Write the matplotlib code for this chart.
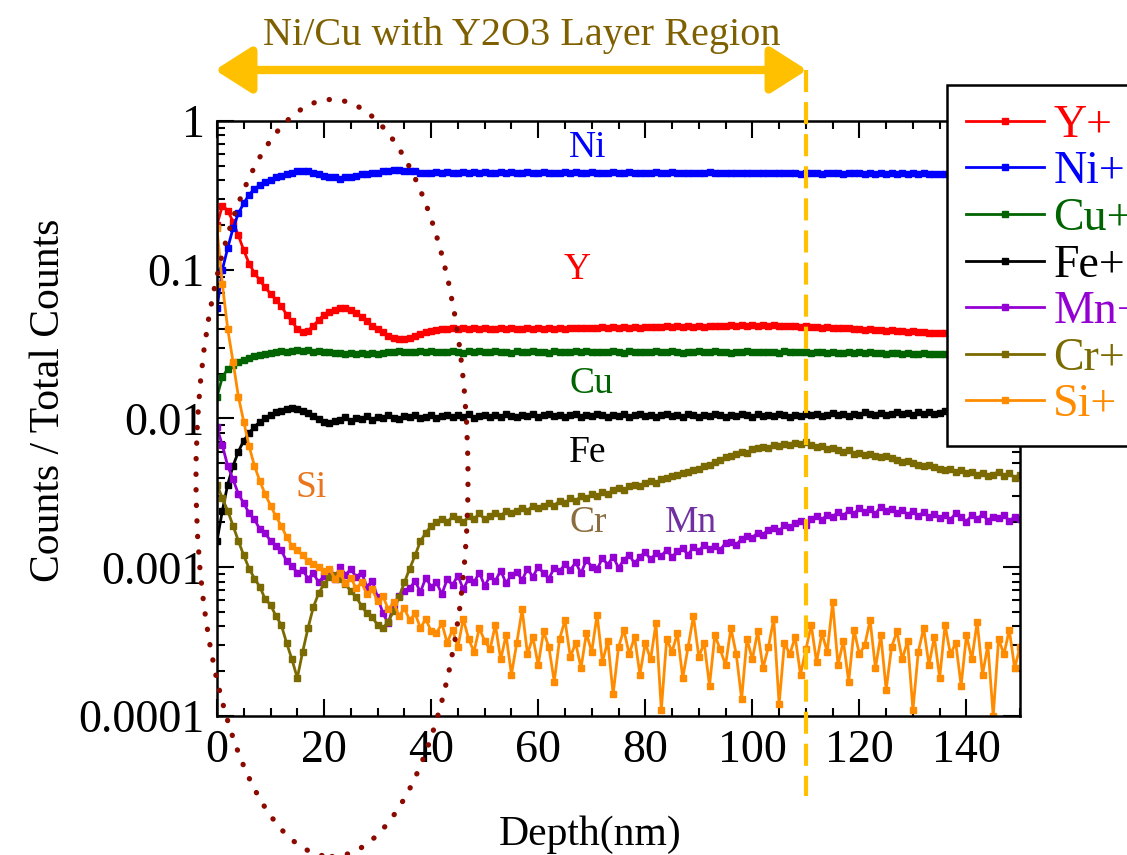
import numpy as np
import matplotlib
matplotlib.use("Agg")
import matplotlib.pyplot as plt
from matplotlib.patches import Ellipse
from matplotlib.lines import Line2D
from matplotlib.ticker import MultipleLocator, LogLocator, NullFormatter

plt.rcParams['font.family'] = ['Liberation Serif', 'DejaVu Serif']

# ---- data (1 nm steps) ----
depth = np.arange(0, 151)

ni = [0.055, 0.10, 0.14, 0.19, 0.24, 0.28, 0.32, 0.35, 0.37, 0.39, 0.40,
      0.42, 0.43, 0.44, 0.45, 0.46, 0.46, 0.46, 0.45, 0.44, 0.43,
      0.42, 0.42, 0.41, 0.42, 0.42, 0.43, 0.44, 0.44, 0.45, 0.45,
      0.46, 0.46, 0.47, 0.47, 0.46, 0.46, 0.46, 0.45, 0.45, 0.45,
      0.452, 0.448, 0.455, 0.450, 0.446, 0.453, 0.449, 0.451, 0.447, 0.454,
      0.450, 0.446, 0.452, 0.448, 0.451, 0.445, 0.450, 0.453, 0.447, 0.449,
      0.452, 0.446, 0.450, 0.448, 0.453, 0.447, 0.451, 0.445, 0.449, 0.452,
      0.446, 0.450, 0.448, 0.452, 0.445, 0.449, 0.451, 0.447, 0.450, 0.446,
      0.449, 0.452, 0.446, 0.448, 0.451, 0.445, 0.449, 0.447, 0.450, 0.446,
      0.448, 0.451, 0.445, 0.449, 0.447, 0.450, 0.444, 0.448, 0.446, 0.449,
      0.445, 0.448, 0.446, 0.450, 0.444, 0.447, 0.445, 0.449, 0.443, 0.447,
      0.445, 0.448, 0.443, 0.446, 0.444, 0.447, 0.442, 0.446, 0.444, 0.447,
      0.443, 0.445, 0.442, 0.446, 0.443, 0.445, 0.441, 0.444, 0.442, 0.445,
      0.441, 0.444, 0.442, 0.440, 0.443, 0.441, 0.444, 0.440, 0.442, 0.439,
      0.443, 0.440, 0.442, 0.439, 0.441, 0.438, 0.442, 0.440, 0.437, 0.441]

y_ion = [0.20, 0.27, 0.25, 0.21, 0.17, 0.135, 0.11, 0.095, 0.085, 0.076, 0.069,
         0.063, 0.057, 0.050, 0.045, 0.040, 0.038, 0.039, 0.042, 0.046, 0.050,
         0.052, 0.054, 0.055, 0.055, 0.054, 0.051, 0.048, 0.045, 0.042, 0.040,
         0.038, 0.036, 0.035, 0.034, 0.034, 0.035, 0.036, 0.037, 0.038, 0.039,
         0.0396, 0.0402, 0.0398, 0.0405, 0.0399, 0.0403, 0.0397, 0.0404, 0.0400, 0.0406,
         0.0401, 0.0398, 0.0404, 0.0399, 0.0403, 0.0397, 0.0402, 0.0405, 0.0400, 0.0403,
         0.0399, 0.0404, 0.0401, 0.0406, 0.0402, 0.0408, 0.0403, 0.0407, 0.0404, 0.0409,
         0.0405, 0.0410, 0.0406, 0.0411, 0.0407, 0.0412, 0.0408, 0.0413, 0.0409, 0.0414,
         0.0410, 0.0415, 0.0411, 0.0416, 0.0412, 0.0417, 0.0413, 0.0418, 0.0414, 0.0419,
         0.0415, 0.0420, 0.0416, 0.0421, 0.0417, 0.0422, 0.0418, 0.0423, 0.0419, 0.0424,
         0.0419, 0.0423, 0.0418, 0.0422, 0.0417, 0.0421, 0.0416, 0.0420, 0.0414, 0.0418,
         0.0412, 0.0415, 0.0409, 0.0412, 0.0406, 0.0409, 0.0403, 0.0406, 0.0400, 0.0402,
         0.0396, 0.0399, 0.0393, 0.0395, 0.0389, 0.0392, 0.0386, 0.0388, 0.0383, 0.0385,
         0.0379, 0.0382, 0.0376, 0.0378, 0.0373, 0.0375, 0.0370, 0.0372, 0.0367, 0.0369,
         0.0364, 0.0366, 0.0361, 0.0363, 0.0358, 0.0360, 0.0356, 0.0358, 0.0353, 0.0355]

cu = [0.0140, 0.0190, 0.0215, 0.0230, 0.0240, 0.0248, 0.0255, 0.0262, 0.0268, 0.0272, 0.0276,
      0.0279, 0.0283, 0.0281, 0.0286, 0.0290, 0.0284, 0.0288, 0.0282, 0.0286, 0.0280,
      0.0278, 0.0274, 0.0277, 0.0272, 0.0275, 0.0270, 0.0274, 0.0271, 0.0276, 0.0273,
      0.0277, 0.0281, 0.0278, 0.0283, 0.0279, 0.0282, 0.0278, 0.0284, 0.0280, 0.0283,
      0.0279, 0.0282, 0.0278, 0.0285, 0.0281, 0.0277, 0.0283, 0.0279, 0.0284, 0.0280,
      0.0278, 0.0283, 0.0279, 0.0282, 0.0277, 0.0284, 0.0280, 0.0278, 0.0283, 0.0279,
      0.0281, 0.0277, 0.0284, 0.0280, 0.0282, 0.0278, 0.0285, 0.0279, 0.0283, 0.0280,
      0.0278, 0.0282, 0.0279, 0.0284, 0.0280, 0.0277, 0.0283, 0.0281, 0.0278, 0.0282,
      0.0279, 0.0284, 0.0280, 0.0278, 0.0283, 0.0281, 0.0277, 0.0282, 0.0279, 0.0283,
      0.0280, 0.0278, 0.0284, 0.0279, 0.0282, 0.0277, 0.0281, 0.0279, 0.0283, 0.0280,
      0.0278, 0.0282, 0.0279, 0.0281, 0.0277, 0.0283, 0.0280, 0.0278, 0.0282, 0.0279,
      0.0277, 0.0281, 0.0278, 0.0276, 0.0280, 0.0277, 0.0275, 0.0279, 0.0276, 0.0278,
      0.0275, 0.0278, 0.0274, 0.0277, 0.0273, 0.0276, 0.0274, 0.0272, 0.0275, 0.0273,
      0.0271, 0.0274, 0.0272, 0.0270, 0.0273, 0.0271, 0.0269, 0.0272, 0.0270, 0.0268,
      0.0271, 0.0269, 0.0267, 0.0270, 0.0268, 0.0266, 0.0269, 0.0267, 0.0265, 0.0268]

fe = [0.0015, 0.0024, 0.0036, 0.0048, 0.0060, 0.0071, 0.0080, 0.0088, 0.0095, 0.0100,
      0.0105, 0.0110, 0.0113, 0.0116, 0.0118, 0.0116, 0.0113, 0.0109, 0.0104, 0.0099,
      0.0095, 0.0093, 0.0096,
      0.0098, 0.0102, 0.0096, 0.0101, 0.0099, 0.0104, 0.0098, 0.0103, 0.0100, 0.0105,
      0.0101, 0.0099, 0.0104, 0.0102, 0.0106, 0.0100, 0.0103, 0.0105, 0.0101, 0.0104,
      0.0106, 0.0102, 0.0105, 0.0103, 0.0107, 0.0101, 0.0104, 0.0106, 0.0102, 0.0105,
      0.0103, 0.0107, 0.0104, 0.0102, 0.0106, 0.0104, 0.0108, 0.0103, 0.0105, 0.0107,
      0.0104, 0.0106, 0.0102, 0.0105, 0.0108, 0.0103, 0.0106, 0.0104, 0.0107, 0.0105,
      0.0103, 0.0106, 0.0104, 0.0108, 0.0102, 0.0105, 0.0107, 0.0104, 0.0106, 0.0103,
      0.0105, 0.0108, 0.0104, 0.0106, 0.0103, 0.0107, 0.0105, 0.0102, 0.0106, 0.0104,
      0.0107, 0.0105, 0.0103, 0.0106, 0.0104, 0.0108, 0.0105, 0.0103, 0.0107, 0.0104,
      0.0106, 0.0104, 0.0107, 0.0105, 0.0103, 0.0106, 0.0104, 0.0108, 0.0105, 0.0107,
      0.0104, 0.0106, 0.0109, 0.0105, 0.0107, 0.0104, 0.0108, 0.0106, 0.0110, 0.0107,
      0.0105, 0.0109, 0.0106, 0.0108, 0.0111, 0.0107, 0.0109, 0.0106, 0.0110, 0.0108,
      0.0111, 0.0107, 0.0109, 0.0112, 0.0108, 0.0110, 0.0107, 0.0111, 0.0109, 0.0112,
      0.0108, 0.0110, 0.0113, 0.0109, 0.0111, 0.0108, 0.0112, 0.0110]

mn = [0.0087, 0.0066, 0.0048, 0.0039, 0.0031, 0.0027, 0.0023, 0.0021, 0.0018, 0.0017,
      0.0015, 0.0014, 0.0013, 0.0011, 0.00102, 0.00092, 0.00096, 0.00084, 0.00091, 0.00079,
      0.00088, 0.00095, 0.00083, 0.00101, 0.00089, 0.00097, 0.00086, 0.00092, 0.00074, 0.00081,
      0.00063, 0.00049, 0.00042, 0.00056, 0.00064, 0.00069,
      0.00072, 0.00081, 0.00068, 0.00085, 0.00074, 0.00079, 0.00066, 0.00083, 0.00076, 0.00088,
      0.00071, 0.00084, 0.00079, 0.00092, 0.00075, 0.00087, 0.00081, 0.00095, 0.00078, 0.00089,
      0.00093, 0.00082, 0.00098, 0.00086, 0.00101, 0.00091, 0.00084, 0.00099, 0.00094, 0.00105,
      0.00096, 0.00108, 0.00091, 0.00112, 0.00101, 0.00097, 0.00115, 0.00104, 0.00118, 0.00099,
      0.00112, 0.00121, 0.00106, 0.00118, 0.00126, 0.00113, 0.00124, 0.00119, 0.00131, 0.00117,
      0.00128, 0.00134, 0.00121, 0.00137, 0.00129, 0.00142, 0.00133, 0.00139, 0.00131, 0.00146,
      0.00148, 0.00141, 0.00156, 0.00162, 0.00158, 0.00171, 0.00166, 0.00179, 0.00184, 0.00176,
      0.00191, 0.00186, 0.00198, 0.00205, 0.00193, 0.00212, 0.00221, 0.00208, 0.00226, 0.00219,
      0.00234, 0.00222, 0.00241, 0.00228, 0.00252, 0.00236, 0.00245, 0.00229, 0.00256, 0.00238,
      0.00247, 0.00231, 0.00243, 0.00226, 0.00239, 0.00221, 0.00235, 0.00218, 0.00229, 0.00214,
      0.00226, 0.00209, 0.00231, 0.00217, 0.00203, 0.00224, 0.00211, 0.00228, 0.00206, 0.00219,
      0.00213, 0.00225, 0.00204, 0.00218, 0.00211]

cr = [0.0036, 0.0029, 0.0024, 0.0019, 0.0015, 0.0012, 0.00098, 0.00084, 0.00074, 0.00061,
      0.00056, 0.00047, 0.00041, 0.00031, 0.00024, 0.00018, 0.00027, 0.00039, 0.00054, 0.00067,
      0.00077, 0.00086, 0.00089, 0.00084, 0.00077, 0.00069, 0.00063, 0.00055, 0.00049, 0.00046,
      0.00041, 0.00039, 0.00043, 0.00051, 0.00063, 0.00079, 0.00098, 0.0012, 0.0015, 0.0017,
      0.0019,
      0.0020, 0.0021, 0.0020, 0.0022, 0.0021, 0.0020, 0.0022, 0.0021, 0.0023, 0.0021,
      0.0022, 0.0023, 0.0022, 0.0024, 0.0023, 0.0024, 0.0025, 0.0024, 0.0026, 0.0025,
      0.0026, 0.0027, 0.0026, 0.0028, 0.0027, 0.0029, 0.0028, 0.0030, 0.0029, 0.0031,
      0.0030, 0.0032, 0.0031, 0.0033, 0.0034, 0.0033, 0.0035, 0.0036, 0.0035, 0.0037,
      0.0038, 0.0037, 0.0039, 0.0040, 0.0041, 0.0042, 0.0043, 0.0044, 0.0045, 0.0046,
      0.0048, 0.0049, 0.0051, 0.0053, 0.0055, 0.0056, 0.0058, 0.0060, 0.0059, 0.0062,
      0.0063, 0.0064, 0.0063, 0.0066, 0.0065, 0.0067, 0.0066, 0.0068, 0.0067, 0.0069,
      0.0066, 0.0064, 0.0065, 0.0062, 0.0063, 0.0061, 0.0060, 0.0061, 0.0058, 0.0059,
      0.0057, 0.0058, 0.0056, 0.0055, 0.0056, 0.0054, 0.0053, 0.0051, 0.0052, 0.0050,
      0.0049, 0.0048, 0.0049, 0.0047, 0.0046, 0.0045, 0.0046, 0.0044, 0.0045, 0.0043,
      0.0044, 0.0042, 0.0043, 0.0041, 0.0042, 0.0044, 0.0041, 0.0043, 0.0040, 0.0042]

si = [0.19, 0.08, 0.04, 0.024, 0.014, 0.0095, 0.0065, 0.0048, 0.0038, 0.0031,
      0.0026, 0.0022, 0.0019, 0.0016, 0.0014, 0.0013, 0.0012, 0.0011, 0.00105, 0.0010,
      0.00095, 0.00098, 0.00084, 0.00091, 0.00078, 0.00085, 0.00072, 0.00079, 0.00066, 0.00071,
      0.00059, 0.00064, 0.00052, 0.00058, 0.00047, 0.00053, 0.00044, 0.00049, 0.00039, 0.00045,
      0.00037,
      0.00036, 0.00042, 0.00031, 0.00038, 0.00029, 0.00045, 0.00033, 0.00027, 0.00039, 0.00032,
      0.00028, 0.00041, 0.00024, 0.00035, 0.00019, 0.00031, 0.00052, 0.00026, 0.00034, 0.00022,
      0.00037, 0.00029, 0.00017, 0.00033, 0.00044, 0.00025, 0.00031, 0.00021, 0.00036, 0.00027,
      0.00048, 0.00023, 0.00032, 0.00014, 0.00029, 0.00038, 0.00026, 0.00034, 0.00019, 0.00031,
      0.00024, 0.00042, 0.00011, 0.00033, 0.00027, 0.00036, 0.00018, 0.00029, 0.00047, 0.00025,
      0.00031, 0.00016, 0.00035, 0.00028, 0.00022, 0.00039, 0.00026, 0.00013, 0.00033, 0.00024,
      0.00037, 0.00021, 0.00029, 0.00045, 0.00012, 0.00031, 0.00026, 0.00034, 0.00019, 0.00028,
      0.00041, 0.00023, 0.00036, 0.00027, 0.00058, 0.00022, 0.00032, 0.00017, 0.00038, 0.00026,
      0.00030, 0.00044, 0.00021, 0.00035, 0.00015, 0.00029, 0.00037, 0.00024, 0.00032, 0.00011,
      0.00027, 0.00039, 0.00022, 0.00034, 0.00018, 0.00041, 0.00026, 0.00031, 0.00016, 0.00035,
      0.00024, 0.00043, 0.00019, 0.00030, 0.00010, 0.00033, 0.00026, 0.00038, 0.00021, 0.00029]

series_names = ['Y+', 'Ni+', 'Cu+', 'Fe+', 'Mn+', 'Cr+', 'Si+']
series_data = [y_ion, ni, cu, fe, mn, cr, si]
series_colors = ['#FF0000', '#0000FF', '#006400', '#000000', '#9400D3', '#7A6A00', '#FF8C00']

y_ticks = [1e-4, 1e-3, 1e-2, 1e-1, 1]
y_tick_labels = ['0.0001', '0.001', '0.01', '0.1', '1']

# in-plot element labels: (text, depth, value, colour)
elem_labels = [('Ni', 69.3, 0.66, '#0000FF'),
               ('Y', 67.3, 0.10, '#FF0000'),
               ('Cu', 70.0, 0.0172, '#006400'),
               ('Fe', 69.3, 0.0059, '#000000'),
               ('Si', 17.5, 0.0034, '#E8761E'),
               ('Cr', 69.3, 0.0020, '#8B6D3F'),
               ('Mn', 88.5, 0.0020, '#7030A0')]

layer_edge = 110  # nm, end of the Ni/Cu with Y2O3 region

W, H = 1127, 855
fig = plt.figure(figsize=(W / 100, H / 100), dpi=100)
ax = fig.add_axes([217 / W, 1 - 716 / H, 803 / W, 595 / H])

for name, vals, col in zip(series_names, series_data, series_colors):
    ax.plot(depth, vals, color=col, lw=2.0, marker='s', ms=5,
            mec=col, mfc=col, label=name)

ax.set_yscale('log')
ax.set_xlim(0, 150)
ax.set_ylim(1e-4, 1)
ax.set_yticks(y_ticks)
ax.set_yticklabels(y_tick_labels)
ax.yaxis.set_minor_locator(LogLocator(base=10, subs=np.arange(2, 10)))
ax.yaxis.set_minor_formatter(NullFormatter())
ax.xaxis.set_major_locator(MultipleLocator(20))
ax.xaxis.set_minor_locator(MultipleLocator(5))
ax.tick_params(which='both', direction='in', top=True, right=True, width=1.5,
               labelsize=33)
ax.tick_params(which='major', length=12)
ax.tick_params(which='minor', length=6)
ax.tick_params(axis='x', pad=10)
ax.tick_params(axis='y', pad=9)
for sp in ax.spines.values():
    sp.set_linewidth(1.8)

ax.set_xlabel('Depth(nm)', fontsize=30)
ax.xaxis.set_label_coords((590 - 217) / 803, -0.168)
ax.set_ylabel('Counts / Total Counts', fontsize=30)
ax.yaxis.set_label_coords(-0.185, 0.53)

for txt, xd, yv, col in elem_labels:
    ax.text(xd, yv, txt, color=col, fontsize=27, ha='center', va='center')

leg = ax.legend(loc='upper left', bbox_to_anchor=(947 / W, 1 - 85 / H),
                bbox_transform=fig.transFigure, fontsize=33, frameon=True,
                fancybox=False, edgecolor='black', framealpha=1,
                labelcolor='linecolor', handlelength=1.7, handletextpad=0.2,
                borderpad=0.42, labelspacing=0.09, borderaxespad=0)
leg.get_frame().set_linewidth(1.8)

# region annotation: title, double arrow, dashed boundary, dotted ellipse
fig.text(522 / W, 1 - 35 / H, 'Ni/Cu with Y2O3 Layer Region', color='#7F6000',
         fontsize=29, ha='center', va='center')
ax.annotate('', xy=(215 / W, 1 - 70 / H), xytext=(807 / W, 1 - 70 / H),
            xycoords='figure fraction', textcoords='figure fraction',
            arrowprops=dict(arrowstyle='<|-|>,head_length=0.55,head_width=0.35',
                            color='#FFC000', lw=6, mutation_scale=40,
                            shrinkA=0, shrinkB=0))
xline = ax.transData.transform((layer_edge, 1))[0] / W
fig.add_artist(Line2D([xline, xline], [1 - 70 / H, 1 - 796 / H],
                      color='#FFC000', lw=3, linestyle=(0, (5.3, 2.4))))
fig.add_artist(Ellipse((332 / W, 1 - 478 / H), 272 / W, 757 / H, fill=False,
                       edgecolor='#8B0A00', lw=3.8,
                       linestyle=(0, (0.05, 2.9)), capstyle='round'))

fig.savefig('out.png', dpi=100)
